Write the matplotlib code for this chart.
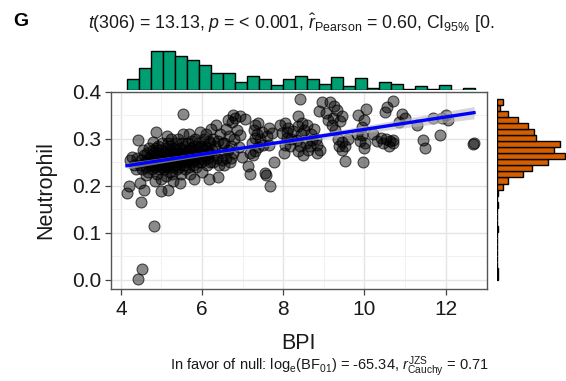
import numpy as np
import matplotlib.pyplot as plt

plt.rcParams['font.family'] = ['Liberation Sans', 'DejaVu Sans']
plt.rcParams['mathtext.fontset'] = 'custom'
plt.rcParams['mathtext.rm'] = 'Liberation Sans'
plt.rcParams['mathtext.it'] = 'Liberation Sans:italic'
plt.rcParams['mathtext.bf'] = 'Liberation Sans:bold'

# (BPI, Neutrophil) pairs, grouped roughly by BPI
POINTS = [
    (4.15, 0.185), (4.19, 0.199), (4.27, 0.262), (4.43, 0.298), (4.43, 0.001),
    (4.22, 0.255), (4.32, 0.245), (4.38, 0.235), (4.40, 0.260),
    (4.48, 0.206), (4.50, 0.166), (4.52, 0.023), (4.58, 0.192), (4.47, 0.245),
    (4.50, 0.255), (4.53, 0.235), (4.56, 0.265), (4.59, 0.250), (4.62, 0.240),
    (4.64, 0.270), (4.66, 0.255), (4.68, 0.230), (4.70, 0.260), (4.72, 0.245),
    (4.55, 0.275), (4.61, 0.222), (4.69, 0.280),
    (4.82, 0.115), (4.86, 0.314), (4.80, 0.294), (4.98, 0.188), (4.75, 0.250),
    (4.76, 0.265), (4.77, 0.235), (4.78, 0.275), (4.79, 0.245), (4.81, 0.255),
    (4.82, 0.270), (4.84, 0.240), (4.85, 0.260), (4.86, 0.280), (4.87, 0.250),
    (4.88, 0.225), (4.89, 0.265), (4.90, 0.245), (4.91, 0.285), (4.92, 0.255),
    (4.93, 0.235), (4.94, 0.270), (4.95, 0.260), (4.96, 0.245), (4.97, 0.275),
    (4.98, 0.250), (4.99, 0.215), (5.00, 0.265), (5.01, 0.240), (5.02, 0.290),
    (5.03, 0.255), (4.83, 0.210),
    (5.17, 0.192), (5.05, 0.250), (5.06, 0.270), (5.07, 0.235), (5.08, 0.260),
    (5.09, 0.245), (5.10, 0.280), (5.11, 0.255), (5.12, 0.220), (5.13, 0.265),
    (5.14, 0.240), (5.15, 0.290), (5.16, 0.255), (5.18, 0.270), (5.19, 0.245),
    (5.20, 0.260), (5.21, 0.230), (5.22, 0.275), (5.23, 0.250), (5.24, 0.300),
    (5.25, 0.265), (5.26, 0.240), (5.27, 0.255), (5.28, 0.280), (5.29, 0.210),
    (5.30, 0.265), (5.31, 0.245), (5.32, 0.270), (5.13, 0.305), (5.21, 0.285),
    (5.27, 0.225), (5.09, 0.260),
    (5.46, 0.206), (5.54, 0.353), (5.34, 0.260), (5.35, 0.275), (5.36, 0.245),
    (5.37, 0.290), (5.38, 0.255), (5.39, 0.235), (5.40, 0.270), (5.41, 0.250),
    (5.42, 0.300), (5.43, 0.265), (5.44, 0.240), (5.45, 0.280), (5.47, 0.260),
    (5.48, 0.225), (5.49, 0.270), (5.50, 0.250), (5.51, 0.290), (5.52, 0.260),
    (5.53, 0.310), (5.55, 0.245), (5.56, 0.275), (5.57, 0.255), (5.58, 0.285),
    (5.59, 0.235), (5.60, 0.265), (5.62, 0.250),
    (5.64, 0.270), (5.65, 0.255), (5.66, 0.290), (5.67, 0.240), (5.68, 0.275),
    (5.69, 0.310), (5.70, 0.260), (5.71, 0.225), (5.72, 0.280), (5.73, 0.250),
    (5.74, 0.265), (5.75, 0.295), (5.77, 0.245), (5.78, 0.270), (5.79, 0.215),
    (5.80, 0.285), (5.81, 0.255), (5.83, 0.300), (5.84, 0.265), (5.85, 0.240),
    (5.86, 0.275), (5.88, 0.260), (5.89, 0.290), (5.90, 0.250), (5.92, 0.280),
    (5.94, 0.315), (5.95, 0.270), (5.97, 0.250), (5.98, 0.285), (6.00, 0.260),
    (6.01, 0.230), (6.03, 0.275), (6.04, 0.300), (6.06, 0.255), (6.07, 0.285),
    (6.09, 0.265), (6.10, 0.310), (6.12, 0.245), (6.13, 0.280), (6.15, 0.260),
    (6.16, 0.295), (6.17, 0.215), (6.18, 0.270), (6.19, 0.250), (6.20, 0.290),
    (6.21, 0.320),
    (6.40, 0.218), (6.24, 0.275), (6.26, 0.250), (6.28, 0.300), (6.30, 0.265),
    (6.33, 0.285), (6.35, 0.330), (6.37, 0.260), (6.40, 0.295), (6.42, 0.245),
    (6.45, 0.310), (6.47, 0.270), (6.49, 0.255), (6.51, 0.290),
    (6.77, 0.350), (6.55, 0.290), (6.58, 0.260), (6.60, 0.320), (6.63, 0.275),
    (6.66, 0.305), (6.68, 0.250), (6.71, 0.285), (6.74, 0.335), (6.76, 0.270),
    (6.79, 0.300), (6.54, 0.245), (6.64, 0.340), (6.72, 0.260),
    (6.82, 0.344), (6.86, 0.319), (6.90, 0.283), (6.94, 0.348), (6.94, 0.308),
    (6.98, 0.262), (7.06, 0.343),
    (7.14, 0.243), (7.18, 0.269), (7.27, 0.319), (7.31, 0.330), (7.31, 0.301),
    (7.31, 0.273), (7.39, 0.334), (7.39, 0.283), (7.22, 0.290), (7.35, 0.310),
    (7.25, 0.265), (7.17, 0.225),
    (7.47, 0.315), (7.51, 0.287), (7.55, 0.227), (7.58, 0.222), (7.60, 0.305),
    (7.64, 0.323), (7.64, 0.287), (7.67, 0.199), (7.44, 0.300),
    (7.72, 0.312), (7.78, 0.250), (7.92, 0.330), (7.97, 0.312),
    (8.05, 0.334), (8.13, 0.323), (8.09, 0.301), (8.05, 0.287), (8.17, 0.284),
    (8.25, 0.316), (8.02, 0.270), (8.20, 0.300), (8.10, 0.315),
    (8.41, 0.384), (8.37, 0.348), (8.46, 0.334), (8.58, 0.330), (8.37, 0.327),
    (8.50, 0.319), (8.33, 0.298), (8.42, 0.284), (8.37, 0.273), (8.45, 0.310),
    (8.55, 0.290), (8.48, 0.265),
    (8.70, 0.298), (8.66, 0.284), (8.87, 0.358), (8.83, 0.287), (8.83, 0.269),
    (8.62, 0.275), (8.75, 0.320), (8.80, 0.300), (8.68, 0.310),
    (8.95, 0.378), (9.15, 0.378), (9.05, 0.355), (8.91, 0.277), (9.10, 0.340),
    (9.32, 0.362), (9.20, 0.330), (9.28, 0.319), (9.46, 0.348), (9.40, 0.337),
    (9.44, 0.294), (9.44, 0.277), (9.22, 0.345), (9.35, 0.300), (9.25, 0.370),
    (9.38, 0.285),
    (9.52, 0.284), (9.52, 0.252), (9.60, 0.300),
    (9.85, 0.350), (9.98, 0.340), (9.94, 0.326), (9.94, 0.308), (9.97, 0.250),
    (10.05, 0.364), (9.90, 0.295), (10.02, 0.290), (9.82, 0.310), (10.00, 0.280),
    (10.20, 0.310), (10.32, 0.295),
    (10.42, 0.302), (10.63, 0.295), (10.55, 0.368), (10.50, 0.357), (10.45, 0.290),
    (10.60, 0.285), (10.52, 0.300),
    (10.71, 0.380), (10.71, 0.298), (10.92, 0.352), (10.70, 0.290), (10.85, 0.335),
    (11.00, 0.345),
    (11.45, 0.298), (11.49, 0.281), (11.30, 0.330),
    (11.69, 0.345),
    (11.86, 0.307), (11.90, 0.345), (12.00, 0.350), (12.05, 0.340),
    (12.68, 0.288), (12.70, 0.290),
]

# marginal histogram counts
TOP_COUNTS = [9, 18, 32, 32, 28, 25, 21, 14, 14, 7, 12, 9, 4, 9, 12, 9, 5, 11,
              3, 10, 2, 7, 5, 1, 3, 1, 4, 0, 2]
TOP_RANGE = (4.15, 12.72)
RIGHT_COUNTS = [1, 1, 0, 0, 0, 0, 0, 0, 1, 0, 0, 0, 1, 0, 1, 4, 7, 17, 23, 33,
                44, 37, 41, 25, 24, 20, 14, 7, 2, 4]
RIGHT_RANGE = (0.0, 0.384)

TITLE = (r'$\mathit{t}$(306) = 13.13, $\mathit{p}$ = < 0.001, '
         r'$\hat{\mathit{r}}_{\mathrm{Pearson}}$ = 0.60, CI$_{\mathrm{95\%}}$ [0.')
CAPTION = (r'In favor of null: log$_{\mathrm{e}}$(BF$_{\mathrm{01}}$) = -65.34, '
           r'$\mathit{r}_{\mathrm{Cauchy}}^{\mathrm{JZS}}$ = 0.71')

bpi = np.array([p[0] for p in POINTS])
neut = np.array([p[1] for p in POINTS])

W, H = 566, 381
fig = plt.figure(figsize=(W / 100, H / 100), dpi=100)


def box(x0, y0, x1, y1):
    # pixel box (top-left origin) -> figure fraction rect
    return [x0 / W, 1 - y1 / H, (x1 - x0) / W, (y1 - y0) / H]


XLIM = (3.75, 13.02)
YLIM = (-0.0195, 0.4)

ax = fig.add_axes(box(110.7, 91.7, 487, 289))
ax_top = fig.add_axes(box(110.7, 44, 487, 90))
ax_right = fig.add_axes(box(496.7, 91.7, 566, 289))

# main scatter
ax.set_xlim(XLIM)
ax.set_ylim(YLIM)
ax.set_xticks([4, 6, 8, 10, 12])
ax.set_xticks([5, 7, 9, 11], minor=True)
ax.set_yticks([0.0, 0.1, 0.2, 0.3, 0.4])
ax.set_yticks([0.05, 0.15, 0.25, 0.35], minor=True)
ax.set_yticklabels(['0.0', '0.1', '0.2', '0.3', '0.4'])
ax.grid(True, which='major', color='#e4e4e4', lw=1.0, zorder=0)
ax.grid(True, which='minor', color='#efefef', lw=0.6, zorder=0)
ax.set_axisbelow(True)
for side in ['bottom', 'left', 'top', 'right']:
    ax.spines[side].set_color('#555555')
    ax.spines[side].set_linewidth(1.0)
ax.tick_params(which='major', direction='out', length=4, width=0.9,
               color='#444444', labelsize=15, labelcolor='#1a1a1a', pad=3)
ax.tick_params(axis='x', which='major', pad=4)
ax.tick_params(which='minor', length=0)

ax.scatter(bpi, neut, s=62, facecolor=(0, 0, 0, 0.46),
           edgecolor=(0, 0, 0, 0.65), linewidth=0.8, zorder=3)

# linear fit with 95% band
slope, intercept = np.polyfit(bpi, neut, 1)
xs = np.linspace(bpi.min(), bpi.max(), 100)
fit = intercept + slope * xs
n = len(bpi)
resid = neut - (intercept + slope * bpi)
s_err = np.sqrt(np.sum(resid ** 2) / (n - 2))
sxx = np.sum((bpi - bpi.mean()) ** 2)
half = 1.968 * s_err * np.sqrt(1 / n + (xs - bpi.mean()) ** 2 / sxx)
ax.fill_between(xs, fit - half, fit + half, color='#bbbbbb', alpha=0.6,
                lw=0, zorder=4)
ax.plot(xs, fit, color='#0000ff', lw=2.4, zorder=5)

ax.set_xlabel('BPI', fontsize=15.5, color='#1a1a1a', labelpad=10)
ax.set_ylabel('Neutrophil', fontsize=15.5, color='#1a1a1a', labelpad=11)

# top marginal histogram
top_edges = np.linspace(TOP_RANGE[0], TOP_RANGE[1], len(TOP_COUNTS) + 1)
ax_top.bar(top_edges[:-1], TOP_COUNTS, width=np.diff(top_edges), align='edge',
           color='#009e73', edgecolor='black', linewidth=1.0)
ax_top.set_xlim(XLIM)
ax_top.set_ylim(0, 38.2)
ax_top.axis('off')

# right marginal histogram
right_edges = np.linspace(RIGHT_RANGE[0], RIGHT_RANGE[1], len(RIGHT_COUNTS) + 1)
ax_right.barh(right_edges[:-1], RIGHT_COUNTS, height=np.diff(right_edges),
              align='edge', color='#d55e00', edgecolor='black', linewidth=1.0)
ax_right.set_ylim(YLIM)
ax_right.set_xlim(0, 44.6)
ax_right.axis('off')

fig.text(13 / W, 1 - 22 / H, 'G', fontsize=14, fontweight='bold',
         ha='left', va='center')
fig.text(291.5 / W, 1 - 23 / H, TITLE, fontsize=12.8, ha='center',
         va='center', color='#1a1a1a')
fig.text(329 / W, 1 - 367 / H, CAPTION, fontsize=10.5, ha='center',
         va='center', color='#1a1a1a')

fig.savefig('out.png', dpi=100)
